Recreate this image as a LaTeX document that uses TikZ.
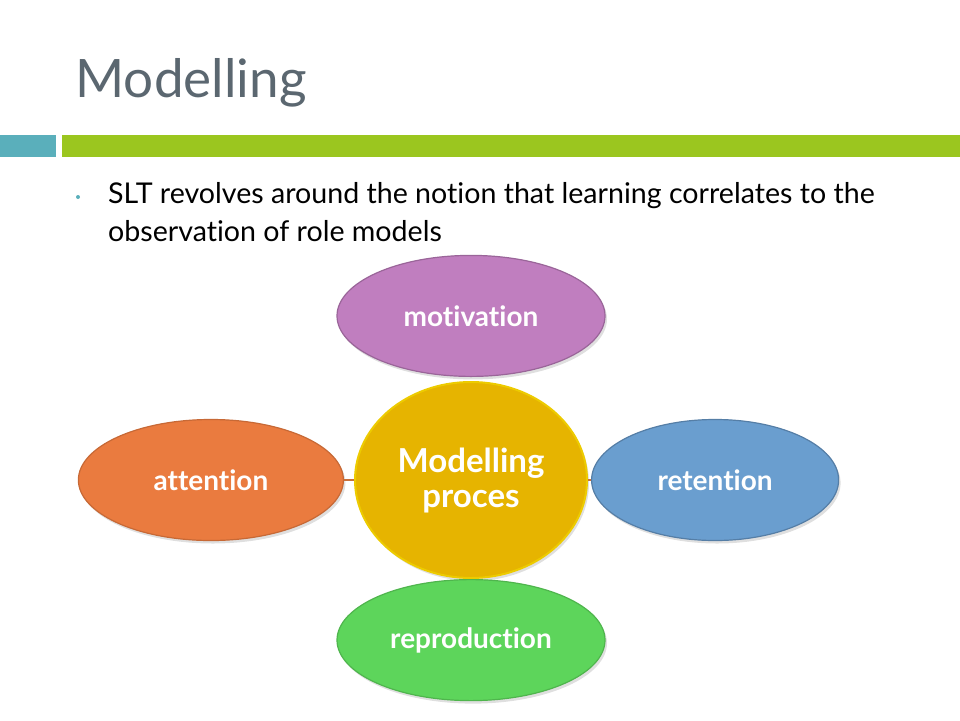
\documentclass[tikz,border=0pt]{standalone}
\usepackage{fontspec}
\setmainfont{Lato}[Ligatures={NoCommon}]
\usetikzlibrary{positioning, shapes.geometric, shadows}

\definecolor{titlegrey}{HTML}{5B6770}
\definecolor{barteal}{HTML}{5AAFBB}
\definecolor{bargreen}{HTML}{9BC61F}
\definecolor{motfill}{HTML}{C07EBF}
\definecolor{attfill}{HTML}{EA7B3F}
\definecolor{retfill}{HTML}{6A9ECF}
\definecolor{repfill}{HTML}{5DD55B}
\definecolor{procfill}{HTML}{E6B400}
\definecolor{linkcol}{HTML}{C8703A}

\begin{document}
\begin{tikzpicture}[x=1pt, y=-1pt,
    phase/.style={ellipse, minimum width=268pt, minimum height=121pt, inner sep=0pt,
      text=white, font=\fontsize{28}{32}\selectfont\bfseries, line width=1.2pt,
      drop shadow={shadow xshift=2pt, shadow yshift=-3pt, opacity=0.25}},
    hub/.style={ellipse, minimum width=232pt, minimum height=196pt, inner sep=0pt,
      text=white, align=center, font=\fontsize{33}{35}\selectfont\bfseries, line width=2pt,
      drop shadow={shadow xshift=2pt, shadow yshift=-3pt, opacity=0.25}},
    link/.style={draw=linkcol, line width=1.5pt}]
    \useasboundingbox (0,0) rectangle (960,720);
    % header
    \node[anchor=base west, text=titlegrey, font=\fontsize{53}{60}\selectfont] (title) at (72,97) {Modelling};
    \fill[barteal] (0,135) rectangle (56,157);
    \fill[bargreen] (62,135) rectangle (960,157);
    % bullet
    \fill[barteal] (78,197) circle (2pt);
    \node[anchor=base west, font=\fontsize{28.6}{32}\selectfont, inner sep=0pt] (line1) at (108,203)
      {SLT revolves around the notion that learning correlates to the};
    \node[anchor=base west, font=\fontsize{28.6}{32}\selectfont, inner sep=0pt] (line2) at (108,241)
      {observation of role models};
    % diagram
    \node[hub, fill=procfill, draw=procfill!70!yellow] (proc) at (471,480) {Modelling\\proces};
    \node[phase, fill=motfill, draw=motfill!80!black, above=4pt of proc] (mot) {motivation};
    \node[phase, fill=repfill, draw=repfill!85!black, below=0pt of proc] (rep) {reproduction};
    \node[phase, fill=attfill, draw=attfill!85!black, left=10pt of proc, minimum width=265pt] (att) {attention};
    \node[phase, fill=retfill, draw=retfill!80!black, right=3pt of proc, minimum width=247pt] (ret) {retention};
    \draw[link] (att) -- (proc);
    \draw[link] (proc) -- (ret);
  \end{tikzpicture}
\end{document}
